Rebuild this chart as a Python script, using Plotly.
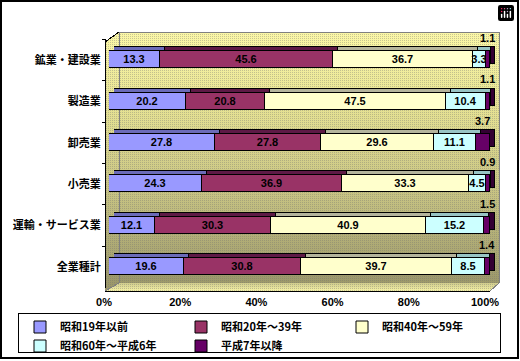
import base64
import plotly.graph_objects as go

categories = ["鉱業・建設業", "製造業", "卸売業", "小売業", "運輸・サービス業", "全業種計"]
series_names = ["昭和19年以前", "昭和20年～39年", "昭和40年～59年", "昭和60年～平成6年", "平成7年以降"]
s1 = [13.3, 20.2, 27.8, 24.3, 12.1, 19.6]
s2 = [45.6, 20.8, 27.8, 36.9, 30.3, 30.8]
s3 = [36.7, 47.5, 29.6, 33.3, 40.9, 39.7]
s4 = [3.3, 10.4, 11.1, 4.5, 15.2, 8.5]
s5 = [1.1, 1.1, 3.7, 0.9, 1.5, 1.4]
tick_vals = [0, 20, 40, 60, 80, 100]
tick_text = ["0%", "20%", "40%", "60%", "80%", "100%"]

series = [s1, s2, s3, s4, s5]
front_colors = ["#9999FF", "#993366", "#FFFFCC", "#CCFFFF", "#660066"]
top_colors = ["#6B6BB8", "#5E1A46", "#B4B49C", "#98C4C4", "#330033"]

W, H = 520, 361
NUM_FONT = dict(family="Liberation Sans, Arial, sans-serif", size=11, color="black", weight="bold")
JP_FONT = dict(family="Noto Sans CJK JP, sans-serif", size=11, color="black", weight="bold")

svg = f'''<svg xmlns="http://www.w3.org/2000/svg" width="{W}" height="{H}" viewBox="0 0 {W} {H}" shape-rendering="crispEdges">
<defs>
<linearGradient id="g" x1="0" y1="32" x2="0" y2="283" gradientUnits="userSpaceOnUse">
<stop offset="0" stop-color="#FBF7A6"/><stop offset="0.3" stop-color="#E6E293"/>
<stop offset="0.65" stop-color="#C6C282"/><stop offset="1" stop-color="#9C986A"/>
</linearGradient>
<linearGradient id="f" x1="0" y1="283" x2="0" y2="291" gradientUnits="userSpaceOnUse">
<stop offset="0" stop-color="#CFCB8C"/><stop offset="1" stop-color="#F6F2A6"/>
</linearGradient>
<pattern id="d" width="2" height="2" patternUnits="userSpaceOnUse">
<rect x="0" y="0" width="1" height="1" fill="#6E6E6E" fill-opacity="0.35"/>
</pattern>
</defs>
<rect x="1" y="1" width="517" height="357" fill="white" stroke="black" stroke-width="2"/>
<polygon points="105,42 119,32 119,283 105,291" fill="url(#g)"/>
<rect x="119" y="32" width="380" height="251" fill="url(#g)"/>
<polygon points="105,291 119,283 499,283 490,291" fill="url(#f)"/>
<polygon points="105,42 119,32 499,32 499,283 490,291 105,291" fill="url(#d)"/>
<polyline points="119,283 119,32 499,32 499,283 490,291" fill="none" stroke="#808080" stroke-width="1"/>
<line x1="105" y1="42" x2="119" y2="32" stroke="black" stroke-width="1"/>
<line x1="119" y1="283" x2="105" y2="291" stroke="#808080" stroke-width="1"/>
<line x1="105" y1="291" x2="490" y2="291" stroke="black" stroke-width="1"/>
<rect x="18.5" y="313.5" width="482" height="39" fill="white" stroke="black" stroke-width="1"/>
</svg>'''
svg_uri = "data:image/svg+xml;base64," + base64.b64encode(svg.encode("utf-8")).decode("ascii")

def px(v):
    return v / W

def py(v):
    return 1 - v / H

fig = go.Figure()

# 3D top/side faces (shadow bars on offset axes)
for vals, c in zip(series, top_colors):
    fig.add_trace(go.Bar(
        y=categories, x=vals, orientation="h", xaxis="x2", yaxis="y2",
        marker=dict(color=c, line=dict(color="black", width=1)),
        width=0.41, showlegend=False, hoverinfo="skip", textposition="none",
    ))

# front faces
for i, (vals, c, name) in enumerate(zip(series, front_colors, series_names)):
    fig.add_trace(go.Bar(
        y=categories, x=vals, orientation="h", xaxis="x3", yaxis="y3",
        name=name,
        marker=dict(color=c, line=dict(color="black", width=1)),
        width=0.41,
        text=[f"{v:.1f}" for v in vals] if i < 4 else None,
        textposition="inside" if i < 4 else "none",
        insidetextanchor="middle", textangle=0, constraintext="none",
        insidetextfont=NUM_FONT,
    ))

# labels for the last (thin) series placed above the bar end
for cat, a, b, c, d, e in zip(categories, s1, s2, s3, s4, s5):
    fig.add_annotation(
        x=a + b + c + d + e / 2, y=cat, xref="x3", yref="y3",
        text=f"{e:.1f}", showarrow=False, yshift=22, font=NUM_FONT,
    )

y_top, y_bot = 39.25, 287.75
fig.update_layout(
    width=W, height=H, autosize=False,
    margin=dict(l=0, r=0, t=0, b=0, autoexpand=False),
    paper_bgcolor="white", plot_bgcolor="rgba(0,0,0,0)",
    barmode="stack", bargap=0,
    modebar=dict(bgcolor="rgba(0,0,0,0)", color="rgba(0,0,0,0)",
                 activecolor="rgba(0,0,0,0)"),
    images=[dict(source=svg_uri, xref="paper", yref="paper", x=0, y=1,
                 sizex=1, sizey=1, sizing="stretch", layer="below",
                 xanchor="left", yanchor="top")],
    # back wall: gridlines
    xaxis=dict(domain=[px(119), px(499)], range=[0, 100], anchor="y",
               tickvals=tick_vals, showgrid=True, showticklabels=False,
               gridcolor="black", gridwidth=1, zeroline=False, showline=False,
               ticks="", fixedrange=True, automargin=False),
    yaxis=dict(domain=[py(283), py(32)], range=[0, 1], anchor="x",
               visible=False, fixedrange=True, automargin=False),
    # extrusion axes
    xaxis2=dict(domain=[px(114), px(495)], range=[0, 100], anchor="y2",
                visible=False, fixedrange=True, automargin=False),
    yaxis2=dict(domain=[py(y_bot - 4), py(y_top - 4)], range=[5.5, -0.5],
                anchor="x2", visible=False, fixedrange=True, automargin=False),
    # front bars, with percent tick labels on the floor edge
    xaxis3=dict(domain=[px(109), px(490)], range=[0, 100], anchor="y3",
                tickmode="array", tickvals=tick_vals, ticktext=tick_text,
                showgrid=False, zeroline=False, showline=False, ticks="",
                tickfont=NUM_FONT, ticklabelshift=-5, ticklabelstandoff=6,
                fixedrange=True, automargin=False),
    yaxis3=dict(domain=[py(y_bot), py(y_top)], range=[5.5, -0.5],
                anchor="free", position=px(105), showline=True,
                linecolor="black", linewidth=1, ticks="outside", ticklen=3,
                tickcolor="black", tickson="boundaries", showgrid=False,
                zeroline=False, tickfont=JP_FONT, ticklabelstandoff=2,
                fixedrange=True, automargin=False),
    legend=dict(orientation="h", x=px(20), xanchor="left", y=py(312.5),
                yanchor="top", entrywidth=116, entrywidthmode="pixels",
                bgcolor="rgba(0,0,0,0)", borderwidth=0,
                font=JP_FONT, traceorder="normal", itemclick=False,
                itemdoubleclick=False, tracegroupgap=0, itemwidth=30),
    showlegend=True,
)

fig.write_html("out.html", post_script="document.body.style.margin='0';")
